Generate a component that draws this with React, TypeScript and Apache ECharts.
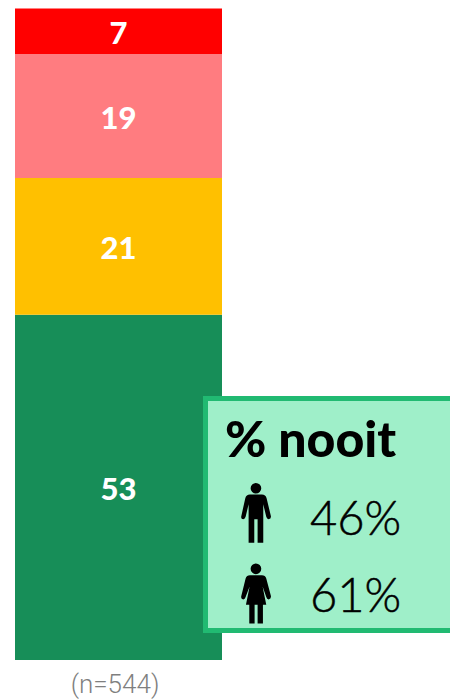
import React, { useEffect, useRef } from "react";
import * as echarts from "echarts";

const categories = ["(n=544)"];
const seriesValues = [53, 21, 19, 7];
const seriesColors = ["#178E58", "#FFC000", "#FF7C80", "#FF0000"];
const boxTitle = "% nooit";
const boxValues = ["46%", "61%"];

const MAN =
  "M199 310 A16 16 0 1 0 167 310 A16 16 0 1 0 199 310 Z M165 329 L201 329 Q212 329 215 340 L228 394 Q229 402 221 403 Q216 403 214 396 L205 358 L205 474 L188 474 L188 403 L178 403 L178 474 L161 474 L161 358 L152 396 Q150 403 145 403 Q137 402 139 394 L151 340 Q154 329 165 329 Z";
const WOMAN =
  "M199 552 A16 16 0 1 0 167 552 A16 16 0 1 0 199 552 Z M165 571 L201 571 Q211 571 214 581 L228 634 Q229 643 221 644 Q216 644 214 637 L203 605 L214 660 L204 660 L204 716 L188 716 L188 660 L179 660 L179 716 L163 716 L163 660 L153 660 L164 605 L152 637 Q150 644 145 644 Q137 643 139 634 L152 581 Q155 571 165 571 Z";

echarts.graphic.registerShape("manIcon", echarts.graphic.extendPath(MAN, {}));
echarts.graphic.registerShape("womanIcon", echarts.graphic.extendPath(WOMAN, {}));

const FONT = "Lato, 'Noto Sans', sans-serif";

export default function App() {
  const ref = useRef<HTMLDivElement>(null);
  useEffect(() => {
    document.body.style.margin = "0";
    const chart = echarts.init(ref.current!, null, { renderer: "svg" });
    chart.setOption({
      animation: false,
      backgroundColor: "#ffffff",
      grid: { left: 15, top: 8.5, width: 207, height: 651.5 },
      xAxis: {
        type: "category",
        data: categories,
        axisLine: { show: false },
        axisTick: { show: false },
        axisLabel: {
          margin: 11,
          color: "#7F7F7F",
          fontFamily: "Roboto, sans-serif",
          fontWeight: 300,
          fontSize: 26,
          padding: [0, 7, 0, 0],
        },
      },
      yAxis: { type: "value", min: 0, max: 100, show: false },
      series: seriesValues.map((v, i) => ({
        type: "bar",
        stack: "total",
        barWidth: "100%",
        data: [v],
        itemStyle: { color: seriesColors[i] },
        label: {
          show: true,
          position: "inside",
          color: "#ffffff",
          fontFamily: FONT,
          fontWeight: 900,
          fontSize: 31,
          offset: [0, 1],
        },
      })),
      graphic: [
        {
          type: "rect",
          z: 10,
          shape: { x: 205.5, y: 398.5, width: 250, height: 232 },
          style: { fill: "#9FEFC9", stroke: "#21BA72", lineWidth: 5 },
        },
        {
          type: "text",
          z: 11,
          x: 225,
          y: 438,
          style: {
            text: boxTitle,
            fill: "#000",
            fontFamily: FONT,
            fontWeight: 900,
            fontSize: 50,
            verticalAlign: "middle",
          },
        },
        {
          type: "manIcon",
          z: 11,
          x: 195,
          y: 385,
          scaleX: 1 / 3,
          scaleY: 1 / 3,
          style: { fill: "#000" },
        },
        {
          type: "womanIcon",
          z: 11,
          x: 195,
          y: 385,
          scaleX: 1 / 3,
          scaleY: 1 / 3,
          style: { fill: "#000" },
        },
        ...boxValues.map((t, i) => ({
          type: "text",
          z: 11,
          x: 310,
          y: i === 0 ? 517 : 594,
          style: {
            text: t,
            fill: "#000",
            fontFamily: FONT,
            fontWeight: 300,
            fontSize: 47,
            verticalAlign: "middle",
            stroke: "#000",
            lineWidth: 0.5,
          },
        })),
      ],
    });
    return () => chart.dispose();
  }, []);
  return <div ref={ref} style={{ width: 450, height: 699 }} />;
}
